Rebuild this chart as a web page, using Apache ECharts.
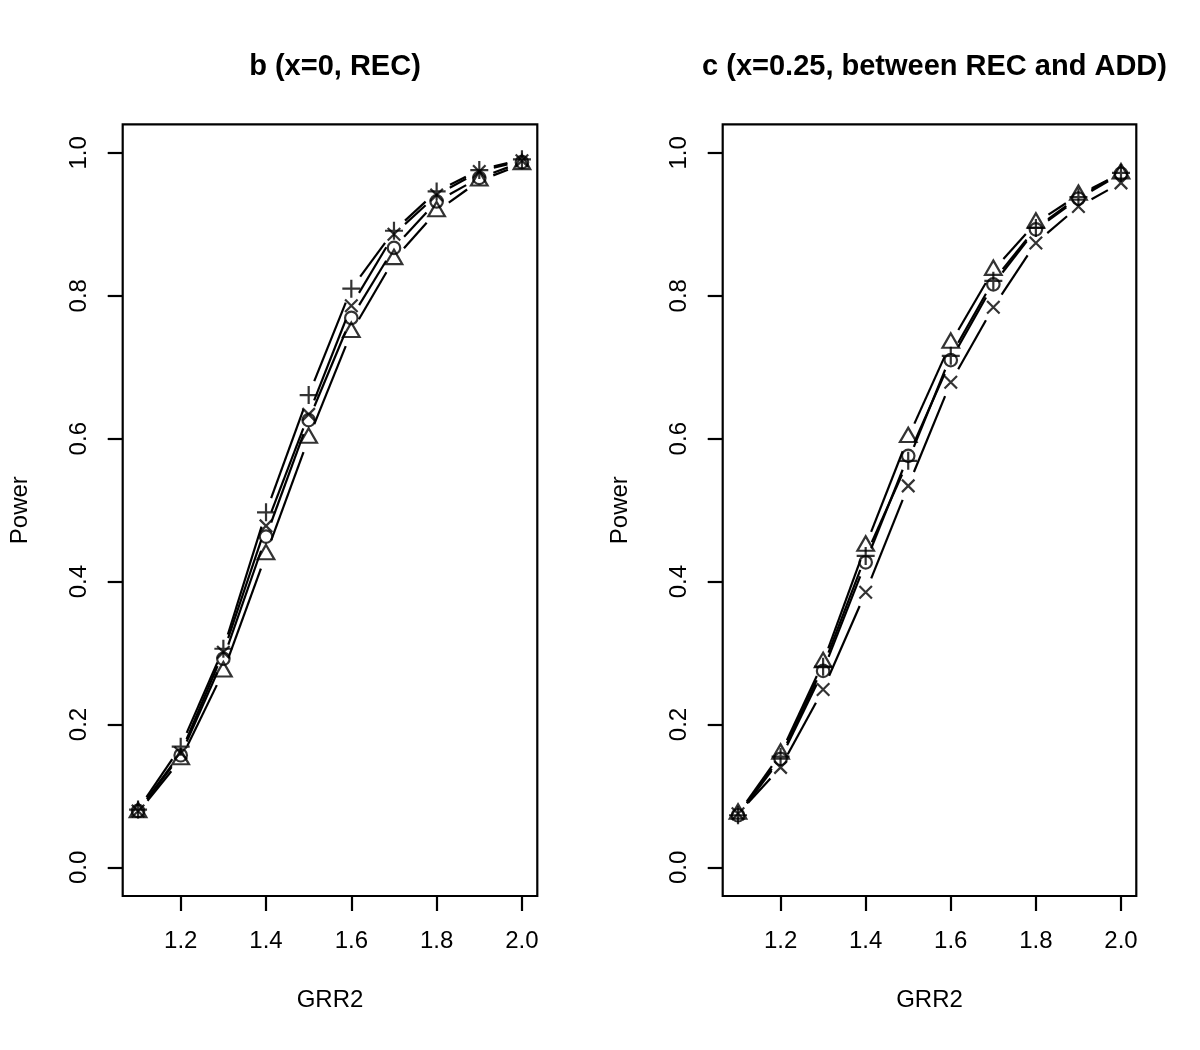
<!DOCTYPE html>
<html><head><meta charset="utf-8">
<script src="https://cdn.jsdelivr.net/npm/echarts@6/dist/echarts.min.js"></script>
<style>html,body{margin:0;padding:0;background:#fff}#chart{width:1200px;height:1050px}</style>
</head><body><div id="chart"></div>
<script>
// ---- data ----
const grr2 = [1.1, 1.2, 1.3, 1.4, 1.5, 1.6, 1.7, 1.8, 1.9, 2.0];
const xTicks = [1.2, 1.4, 1.6, 1.8, 2.0];
const yTicks = [0.0, 0.2, 0.4, 0.6, 0.8, 1.0];
const panelTitles = ['b (x=0, REC)', 'c (x=0.25, between REC and ADD)'];
const xName = 'GRR2';
const yName = 'Power';

// panel b (x=0, REC)
const bPlus   = [0.081, 0.169, 0.306, 0.497, 0.661, 0.810, 0.891, 0.946, 0.976, 0.991];
const bCross  = [0.079, 0.160, 0.301, 0.478, 0.634, 0.786, 0.886, 0.941, 0.974, 0.989];
const bCircle = [0.079, 0.157, 0.292, 0.463, 0.626, 0.769, 0.867, 0.932, 0.965, 0.987];
const bTri    = [0.077, 0.151, 0.274, 0.438, 0.601, 0.749, 0.851, 0.918, 0.961, 0.984];

// panel c (x=0.25)
const cPlus   = [0.073, 0.155, 0.281, 0.436, 0.569, 0.716, 0.821, 0.895, 0.938, 0.972];
const cCross  = [0.075, 0.140, 0.249, 0.385, 0.534, 0.679, 0.784, 0.874, 0.925, 0.958];
const cCircle = [0.073, 0.152, 0.275, 0.427, 0.576, 0.710, 0.816, 0.893, 0.936, 0.971];
const cTri    = [0.075, 0.159, 0.287, 0.450, 0.602, 0.734, 0.836, 0.902, 0.941, 0.971];

// ---- styling ----
const FONT = '"Liberation Sans", Arial, Helvetica, sans-serif';
const GAP = 15;   // R type="b" gap around points (px)
const LW = 2.2;

const SYM = {
  plus:   { symbol: 'path://M0,5L10,5M5,0L5,10', size: 18, offset: [0, 0] },
  cross:  { symbol: 'path://M0,0L10,10M0,10L10,0', size: 12.5, offset: [0, 0] },
  circle: { symbol: 'circle', size: 12.5, offset: [0, 0] },
  tri:    { symbol: 'triangle', size: [16.6, 14.4], offset: [0, -2.4] }
};

const panels = [
  { series: [['plus', bPlus], ['cross', bCross], ['circle', bCircle], ['tri', bTri]] },
  { series: [['plus', cPlus], ['cross', cCross], ['circle', cCircle], ['tri', cTri]] }
];

const gridPos = [
  { left: 122.7, top: 124.3, width: 414.6, height: 771.7 },
  { left: 722.7, top: 124.3, width: 413.6, height: 771.7 }
];

function gapRender(params, api) {
  const p0 = api.coord([api.value(0), api.value(1)]);
  const p1 = api.coord([api.value(2), api.value(3)]);
  const dx = p1[0] - p0[0], dy = p1[1] - p0[1];
  const len = Math.hypot(dx, dy);
  if (len <= 2 * GAP) return { type: 'group', children: [] };
  const f = GAP / len;
  return {
    type: 'line',
    shape: { x1: p0[0] + dx * f, y1: p0[1] + dy * f, x2: p1[0] - dx * f, y2: p1[1] - dy * f },
    style: { stroke: '#000', lineWidth: LW },
    silent: true
  };
}

const grids = [], xAxes = [], yAxes = [], series = [], titles = [];
panels.forEach((p, g) => {
  grids.push(Object.assign({ show: true, borderColor: '#000', borderWidth: LW, backgroundColor: 'transparent' }, gridPos[g]));
  titles.push({
    text: panelTitles[g],
    left: gridPos[g].left + gridPos[g].width / 2,
    top: 47,
    textAlign: 'center',
    textStyle: { fontFamily: FONT, fontWeight: 'bold', fontSize: 29, color: '#000' }
  });
  xAxes.push({
    type: 'value', gridIndex: g, min: 1.064, max: 2.036, position: 'bottom',
    axisLine: { show: false, onZero: false }, splitLine: { show: false },
    axisTick: { show: true, inside: false, length: 15, lineStyle: { color: '#000', width: LW }, customValues: xTicks },
    axisLabel: { customValues: xTicks, formatter: v => v.toFixed(1), fontSize: 24, color: '#000', margin: 33, fontFamily: FONT },
    name: xName, nameLocation: 'middle', nameGap: 92,
    nameTextStyle: { fontSize: 24, color: '#000', fontFamily: FONT }
  });
  yAxes.push({
    type: 'value', gridIndex: g, min: -0.04, max: 1.04, position: 'left',
    axisLine: { show: false, onZero: false }, splitLine: { show: false },
    axisTick: { show: true, inside: false, length: 15, lineStyle: { color: '#000', width: LW }, customValues: yTicks },
    axisLabel: { customValues: yTicks, formatter: v => v.toFixed(1), rotate: 90, fontSize: 24, color: '#000', margin: 31, fontFamily: FONT },
    name: yName, nameLocation: 'middle', nameGap: 90,
    nameTextStyle: { fontSize: 24, color: '#000', fontFamily: FONT }
  });
  p.series.forEach(([kind, vals]) => {
    const segs = [];
    for (let i = 0; i < grr2.length - 1; i++) segs.push([grr2[i], vals[i], grr2[i + 1], vals[i + 1]]);
    series.push({
      type: 'custom', xAxisIndex: g, yAxisIndex: g,
      renderItem: gapRender, data: segs, encode: { x: [0, 2], y: [1, 3] },
      silent: true, animation: false, z: 2
    });
    const s = SYM[kind];
    series.push({
      type: 'scatter', xAxisIndex: g, yAxisIndex: g,
      data: grr2.map((x, i) => [x, vals[i]]),
      symbol: s.symbol, symbolSize: s.size, symbolOffset: s.offset,
      itemStyle: { color: 'rgba(0,0,0,0)', borderColor: '#000', borderWidth: LW },
      emphasis: { disabled: true },
      silent: true, animation: false, z: 3
    });
  });
});

const chart = echarts.init(document.getElementById('chart'), null, { renderer: 'canvas' });
chart.setOption({
  backgroundColor: '#fff',
  animation: false,
  title: titles,
  grid: grids,
  xAxis: xAxes,
  yAxis: yAxes,
  series: series
});
</script>
</body></html>
